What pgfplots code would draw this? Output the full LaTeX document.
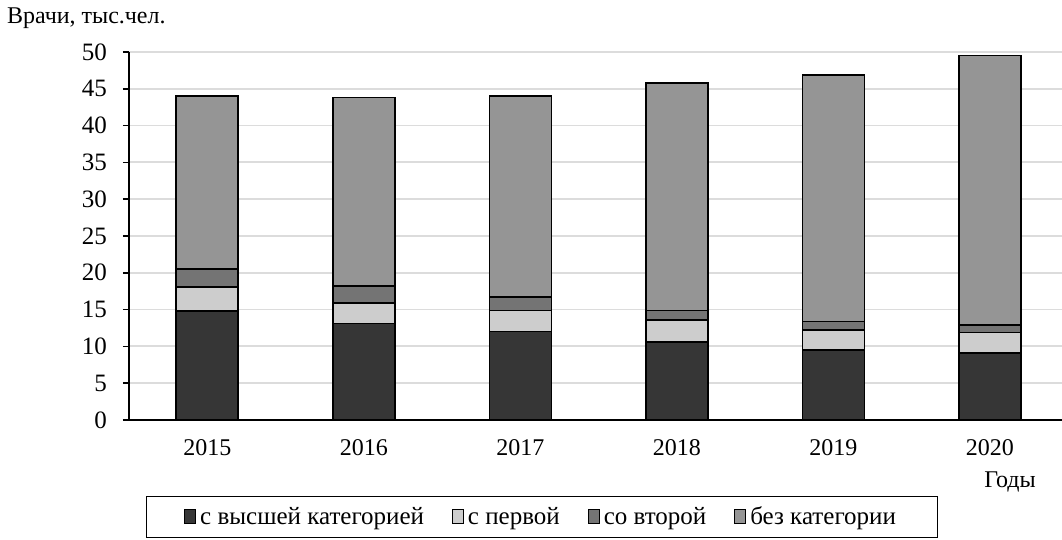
\documentclass[border=0pt]{standalone}
\usepackage{pgfplots}
\pgfplotsset{compat=1.18}
\usepackage{fontspec}
\setmainfont{Liberation Serif}
\definecolor{cA}{HTML}{363636}
\definecolor{cB}{HTML}{CDCDCD}
\definecolor{cC}{HTML}{747474}
\definecolor{cD}{HTML}{959595}
\definecolor{gridc}{HTML}{DCDCDC}
\begin{document}
\begin{tikzpicture}
\begin{axis}[
  at={(0,0)}, anchor=south west,
  scale only axis, width=466.5pt, height=184pt,
  ybar stacked, bar width=31pt,
  xmin=-0.5, xmax=5.46, ymin=0, ymax=50,
  xtick=data, xticklabels={2015,2016,2017,2018,2019,2020},
  ytick={0,5,...,50},
  axis x line*=bottom, axis y line*=left,
  axis line style={black, line width=0.9pt, -},
  x axis line style={line width=1.2pt},
  xtick style={draw=none},
  ytick style={black, line width=0.8pt},
  tick align=outside, major tick length=3pt,
  ymajorgrids, grid style={gridc, line width=0.9pt},
  tick label style={font=\fontsize{12}{14}\selectfont},
  yticklabel style={font=\fontsize{12.5}{14}\selectfont, xshift=-4.5pt},
  /pgf/number format/assume math mode=true,
  xticklabel style={yshift=-3pt},
  legend columns=4,
  legend style={at={(0.4427,-0.2636)}, anchor=center, draw=black, line width=0.6pt,
    font=\fontsize{12.5}{14}\selectfont, inner xsep=19pt, inner ysep=3pt,
    /tikz/every even column/.append style={column sep=12pt}},
  legend image code/.code={\draw[#1, draw=black, line width=0.5pt] (1pt,-3.5pt) rectangle (6.5pt,3.5pt);},
  legend cell align=left,
]
\addplot[fill=cA, draw=black, line width=0.8pt] coordinates {(0,14.8) (1,13.1) (2,12.0) (3,10.6) (4,9.5) (5,9.1)};
\addplot[fill=cB, draw=black, line width=0.8pt] coordinates {(0,3.3) (1,2.8) (2,2.9) (3,3.0) (4,2.7) (5,2.8)};
\addplot[fill=cC, draw=black, line width=0.8pt] coordinates {(0,2.4) (1,2.3) (2,1.8) (3,1.3) (4,1.2) (5,1.0)};
\addplot[fill=cD, draw=black, line width=0.8pt] coordinates {(0,23.5) (1,25.6) (2,27.3) (3,30.9) (4,33.5) (5,36.6)};
\legend{с высшей категорией,с первой,со второй,без категории}
\end{axis}
\node[anchor=west, font=\fontsize{12}{14}\selectfont] at (-64.5pt,201pt) {Врачи, тыс.чел.};
\node[font=\fontsize{12}{14}\selectfont] at (440.5pt,-31pt) {Годы};
\pgfresetboundingbox
\path (-64.5pt,-60pt) rectangle (466.5pt,210pt);
\end{tikzpicture}
\end{document}
